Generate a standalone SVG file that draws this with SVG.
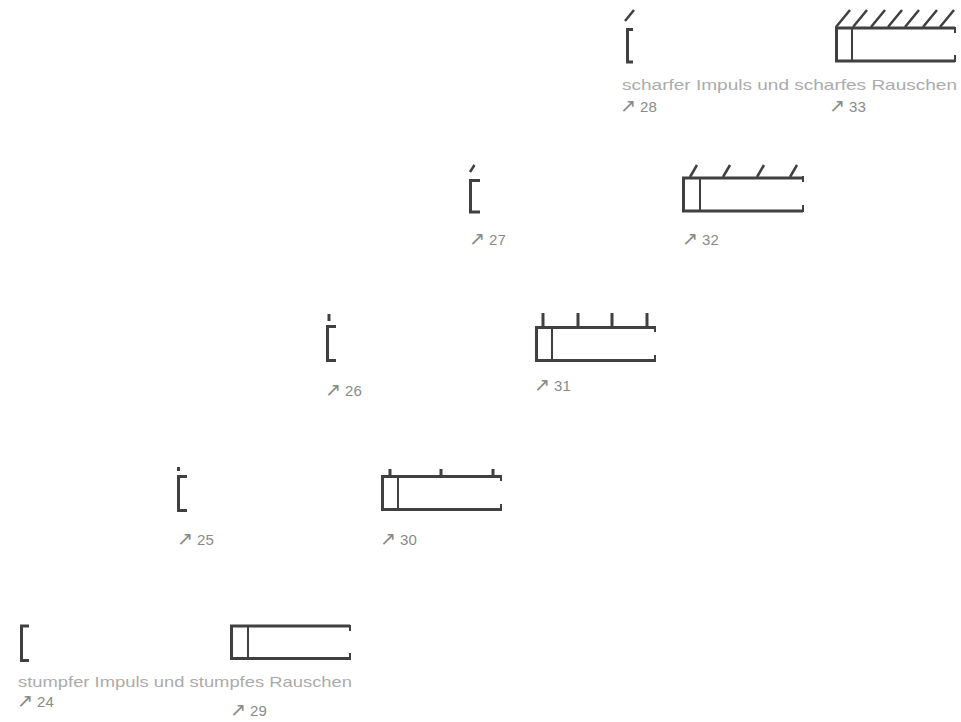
<svg xmlns="http://www.w3.org/2000/svg" width="961" height="722" viewBox="0 0 961 722">
<style>
.s{fill:none;stroke:#404040;stroke-width:3;stroke-linecap:butt}
.t{fill:none;stroke:#404040;stroke-width:2}
.h{fill:none;stroke:#404040;stroke-width:2.5}
.lbl{font-family:"Liberation Sans","DejaVu Sans",sans-serif;font-size:15px;fill:#8a8a8a}
.ar{font-family:"DejaVu Sans",sans-serif;font-size:19px}
.desc{font-family:"Liberation Sans","DejaVu Sans",sans-serif;font-size:15px;fill:#ababab}
</style>
<rect width="961" height="722" fill="#ffffff"/>

<g id="bracket24">
<path class="s" d="M29,626 H21.5 V660.5 H29"/>
<text class="lbl" x="17" y="707"><tspan class="ar">↗</tspan> 24</text>
</g>
<g id="box29">
<path class="s" d="M350,626 H231.5 V658.5 H350"/>
<path class="t" d="M248,626 V658 M350,625 V631 M350,653 V660"/>
<text class="lbl" x="230" y="716"><tspan class="ar">↗</tspan> 29</text>
</g>
<g id="desc-stumpf">
<text class="desc" x="18" y="687" textLength="334" lengthAdjust="spacingAndGlyphs">stumpfer Impuls und stumpfes Rauschen</text>
</g>

<g id="bracket25">
<path class="s" d="M187,476.5 H178.5 V510.5 H187"/>
<path class="s" d="M178.5,467 V471"/>
<text class="lbl" x="177" y="545"><tspan class="ar">↗</tspan> 25</text>
</g>
<g id="box30">
<path class="s" d="M501,476.5 H382.5 V509.5 H501"/>
<path class="t" d="M398,477 V509 M501,475 V481 M501,504 V511"/>
<path class="s" d="M390,469 V476 M441,469 V476 M493,469 V476"/>
<text class="lbl" x="380" y="545"><tspan class="ar">↗</tspan> 30</text>
</g>

<g id="bracket26">
<path class="s" d="M336,326.5 H327.5 V360.5 H336"/>
<path class="s" d="M329,314 V321"/>
<text class="lbl" x="325" y="396"><tspan class="ar">↗</tspan> 26</text>
</g>
<g id="box31">
<path class="s" d="M655,327.5 H536.5 V360.5 H655"/>
<path class="t" d="M552,328 V360 M655,326 V332 M655,355 V362"/>
<path class="s" d="M543,313 V327 M578,313 V327 M612,313 V327 M647,313 V327"/>
<text class="lbl" x="534" y="391"><tspan class="ar">↗</tspan> 31</text>
</g>

<g id="bracket27">
<path class="s" d="M480,180.5 H470.5 V212 H480"/>
<path class="h" d="M470,172 L474.5,165"/>
<text class="lbl" x="469" y="245"><tspan class="ar">↗</tspan> 27</text>
</g>
<g id="box32">
<path class="s" d="M803,178 H683.5 V211 H803"/>
<path class="t" d="M700,178 V211 M803,176 V182 M803,205 V212"/>
<path class="h" d="M690,177 L697,165 M723,177 L730,165 M757,177 L764,165 M790,177 L797,165"/>
<text class="lbl" x="682" y="245"><tspan class="ar">↗</tspan> 32</text>
</g>

<g id="bracket28">
<path class="s" d="M633,29.5 H627.5 V62 H633"/>
<path class="h" d="M625,21 L634,10"/>
<text class="lbl" x="620" y="112"><tspan class="ar">↗</tspan> 28</text>
</g>
<g id="box33">
<path class="s" d="M955,28 H836.5 V61 H955"/>
<path class="t" d="M852,28 V61 M955,27 V33 M955,55 V62"/>
<path class="h" d="M836,27 L850,10 M853,27 L867,10 M871,27 L885,10 M888,27 L902,10 M905,27 L919,10 M923,27 L937,10 M940,27 L954,10"/>
<text class="lbl" x="829" y="112"><tspan class="ar">↗</tspan> 33</text>
</g>
<g id="desc-scharf">
<text class="desc" x="622" y="90" textLength="335" lengthAdjust="spacingAndGlyphs">scharfer Impuls und scharfes Rauschen</text>
</g>

<g id="connectors"></g>
</svg>
